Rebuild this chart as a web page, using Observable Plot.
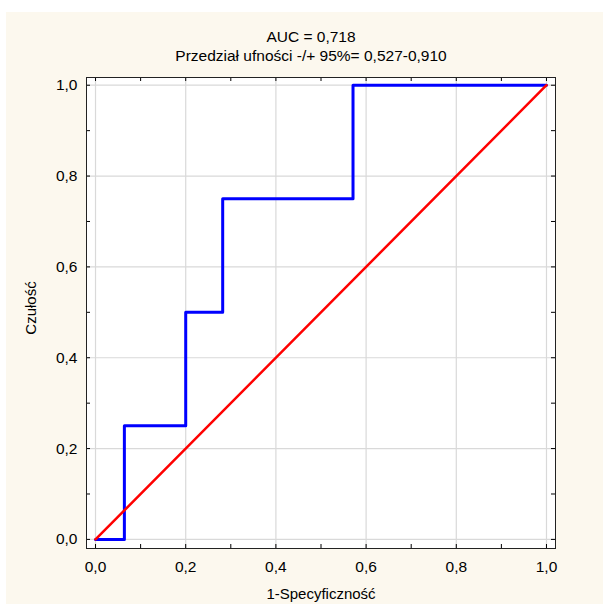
<!DOCTYPE html>
<html>
<head>
<meta charset="utf-8">
<script src="https://cdn.jsdelivr.net/npm/d3@7"></script>
<script src="https://cdn.jsdelivr.net/npm/@observablehq/plot@0.6"></script>
<style>
  html, body { margin: 0; padding: 0; background: #ffffff; }
  #chart { position: absolute; left: 6px; top: 12px; width: 597px; height: 592px; background: #fcf8ee; }
  #chart svg { display: block; }
</style>
</head>
<body>
<div id="chart"></div>
<script>
// ROC curve data (1-specificity, sensitivity)
const fpr = [0, 0.064, 0.2, 0.282, 0.571, 1.0];
const tpr = [0, 0.25, 0.5, 0.75, 1.0, 1.0];
// reference diagonal
const refX = [0, 1];
const refY = [0, 1];
// axis ticks
const majorTicks = [0, 0.2, 0.4, 0.6, 0.8, 1.0];
const minorTicks = [0, 0.1, 0.2, 0.3, 0.4, 0.5, 0.6, 0.7, 0.8, 0.9, 1.0];
const titleLines = ["AUC = 0,718", "Przedział ufności -/+ 95%= 0,527-0,910"];
const xLabel = "1-Specyficzność";
const yLabel = "Czułość";

const W = 597, H = 592;
const mL = 80, mR = 48, mT = 65, mB = 56;
const pw = W - mL - mR, ph = H - mT - mB;
const fmt = d => d.toFixed(1).replace(".", ",");

const roc = fpr.map((x, i) => ({x, y: tpr[i]}));
const diag = refX.map((x, i) => ({x, y: refY[i]}));

const chart = Plot.plot({
  width: W, height: H,
  marginLeft: mL, marginRight: mR, marginTop: mT, marginBottom: mB,
  style: {background: "transparent", fontFamily: "'Liberation Sans', Arial, sans-serif", fontSize: "15px", color: "#000", overflow: "visible"},
  x: {domain: [-0.02, 1.02]},
  y: {domain: [-0.02, 1.017]},
  marks: [
    Plot.frame({fill: "#ffffff", stroke: null}),
    Plot.gridX(majorTicks, {stroke: "#d9d9d9", strokeOpacity: 1, strokeWidth: 1.2}),
    Plot.gridY(majorTicks, {stroke: "#d9d9d9", strokeOpacity: 1, strokeWidth: 1.2}),
    // inward tick marks on all four sides
    Plot.tickX(minorTicks, {x: d => d, insetTop: ph - 4, stroke: "#000"}),
    Plot.tickX(minorTicks, {x: d => d, insetBottom: ph - 4, stroke: "#000"}),
    Plot.tickY(minorTicks, {y: d => d, insetRight: pw - 4, stroke: "#000"}),
    Plot.tickY(minorTicks, {y: d => d, insetLeft: pw - 4, stroke: "#000"}),
    Plot.axisX(majorTicks, {tickSize: 0, tickPadding: 12, tickFormat: fmt, fontSize: 15.5, label: null}),
    Plot.axisY(majorTicks, {tickSize: 0, tickPadding: 9, tickFormat: fmt, fontSize: 15.5, label: null}),
    Plot.frame({stroke: "#222", strokeWidth: 1}),
    Plot.line(roc, {x: "x", y: "y", curve: "step-after", stroke: "#0000ff", strokeWidth: 3}),
    Plot.line(diag, {x: "x", y: "y", stroke: "#ff0000", strokeWidth: 2.5}),
    Plot.text([titleLines[0]], {text: d => d, frameAnchor: "top", dx: -10, dy: -40, fontSize: 15.5, lineAnchor: "middle", textAnchor: "middle"}),
    Plot.text([titleLines[1]], {text: d => d, frameAnchor: "top", dx: -10, dy: -21, fontSize: 15.5, lineAnchor: "middle", textAnchor: "middle"}),
    Plot.text([xLabel], {text: d => d, frameAnchor: "bottom", dy: 46, fontSize: 15, lineAnchor: "middle", textAnchor: "middle"}),
    Plot.text([yLabel], {text: d => d, frameAnchor: "left", dx: -55, dy: -5, rotate: -90, fontSize: 15, lineAnchor: "middle", textAnchor: "middle"})
  ]
});
document.getElementById("chart").appendChild(chart);
</script>
</body>
</html>
